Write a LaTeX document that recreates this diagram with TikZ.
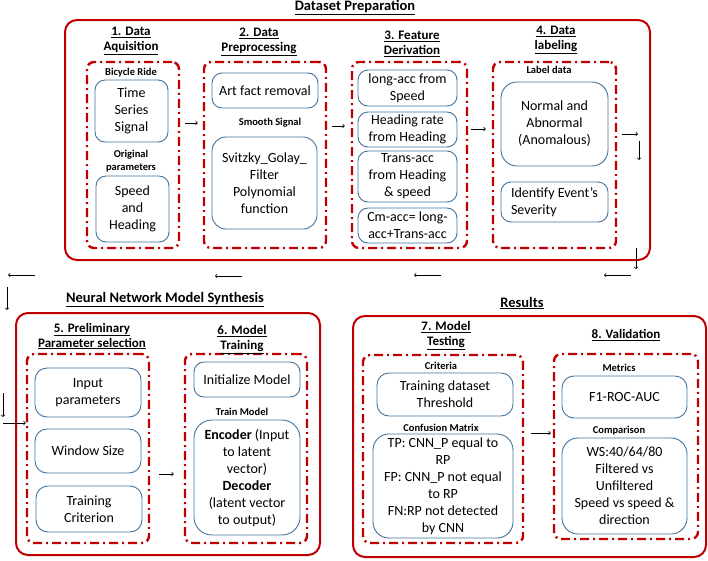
\documentclass[tikz,border=0pt]{standalone}
\usepackage{fontspec}
\setmainfont{Carlito}
\usepackage{tikz}
\usetikzlibrary{positioning,calc}
\definecolor{pptred}{RGB}{192,0,0}
\definecolor{pptblue}{RGB}{65,113,156}

\begin{document}
\begin{tikzpicture}[x=1pt,y=-1pt]
            \tikzstyle{outer}=[draw=pptred, line width=2pt, rounded corners=12pt]
            \tikzstyle{group}=[draw=pptred, line width=2.4pt, rounded corners=7pt,
            dash pattern=on 9pt off 4pt on 2pt off 4pt]
            \tikzstyle{box}=[draw=pptblue, line width=0.9pt, rounded corners=10pt,
            align=center, inner sep=1pt, font=\fontsize{14}{17}\selectfont]
            \tikzstyle{tag}=[font=\fontsize{10.5}{13}\selectfont\bfseries, align=center]
            \tikzstyle{head}=[font=\fontsize{13}{15}\selectfont\bfseries, align=center]
            \tikzstyle{title}=[font=\fontsize{14.5}{17}\selectfont\bfseries]
            \tikzstyle{arr}=[->, line width=0.7pt]
            \useasboundingbox (0,0) rectangle (708,560);
            % Dataset Preparation
            \node[title] (t1) at (355,8) {\underline{Dataset Preparation}};
            \draw[outer] (65,20) rectangle (650,260);
            \node[group, minimum width=92pt, minimum height=186pt] (g1) at (133,155) {};
            \node[group, minimum width=122pt, minimum height=186pt] (g2) at (265,155) {};
            \node[group, minimum width=115pt, minimum height=186pt] (g3) at (409.5,155) {};
            \node[group, minimum width=123pt, minimum height=186pt] (g4) at (554.5,155) {};
            \node[head] (h1) at (131,41) {\underline{1. Data}\\\underline{Aquisition}};
            \node[head] (h2) at (259,42) {\underline{2. Data}\\\underline{Preprocessing}};
            \node[head] (h3) at (412,44) {\underline{3. Feature}\\\underline{Derivation}};
            \node[head] (h4) at (556,40) {\underline{4. Data}\\\underline{labeling}};
            \node[tag] (l11) at (131,73) {Bicycle Ride};
            \node[box, minimum width=73pt, minimum height=62pt] (b11) at (131.5,111) {Time\\Series\\Signal};
            \node[tag] (l12) at (131,161.5) {Original\\parameters};
            \node[box, minimum width=73pt, minimum height=66pt] (b12) at (132.5,209) {Speed\\and\\Heading};
            \node[box, minimum width=106pt, minimum height=35pt] (b21) at (265,90.5) {Art fact removal};
            \node[tag] (l21) at (270,123) {Smooth Signal};
            \node[box, minimum width=105pt, minimum height=92pt, rounded corners=14pt] (b22) at (264.5,183)
              {Svitzky\_Golay\_\\Filter\\Polynomial\\function};
            \node[box, minimum width=99pt, minimum height=36pt] (b31) at (407.5,88) {long-acc from\\Speed};
            \node[box, minimum width=99pt, minimum height=35pt] (b32) at (407.5,129.5) {Heading rate\\from Heading};
            \node[box, minimum width=99pt, minimum height=51pt] (b33) at (407.5,176.5) {Trans-acc\\from Heading\\\& speed};
            \node[box, minimum width=99pt, minimum height=35pt] (b34) at (407.5,225.5) {Cm-acc= long-\\acc+Trans-acc};
            \node[tag] (l41) at (549,70) {Label data};
            \node[box, minimum width=107pt, minimum height=84pt, rounded corners=16pt] (b41) at (554.5,124)
              {Normal and\\Abnormal\\(Anomalous)};
            \node[box, minimum width=107pt, minimum height=40pt, align=left] (b42) at (554.5,202)
              {Identify Event’s\\Severity};
            \path
            ([xshift=5pt,yshift=32pt]g1.east) edge [arr] ([xshift=-5pt,yshift=32pt]g2.west)
            ([xshift=5pt,yshift=29pt]g2.east) edge [arr] ([xshift=-6pt,yshift=29pt]g3.west)
            ([xshift=3pt,yshift=26pt]g3.east) edge [arr] ([xshift=-6pt,yshift=26pt]g4.west);
            % loose arrows between the rows
            \coordinate (r1) at (622,134); \coordinate (r2) at (638,134);
            \coordinate (r3) at (639,141); \coordinate (r4) at (639,160);
            \coordinate (r5) at (636,248); \coordinate (r6) at (636,269);
            \coordinate (r7) at (631,275); \coordinate (r8) at (604,275);
            \coordinate (r9) at (441,275); \coordinate (r10) at (414,275);
            \coordinate (r11) at (242,276); \coordinate (r12) at (215,276);
            \coordinate (r13) at (35,275); \coordinate (r14) at (8,275);
            \coordinate (r15) at (7,287); \coordinate (r16) at (7,310);
            \coordinate (r17) at (3,393); \coordinate (r18) at (3,417);
            \coordinate (r19) at (3,423);
            \foreach \a/\b in {r1/r2,r3/r4,r5/r6,r7/r8,r9/r10,r11/r12,r13/r14,r15/r16,r17/r18}
              \draw[arr] (\a) -- (\b);
            % Neural Network Model Synthesis
            \node[title] (t2) at (165,300) {\underline{Neural Network Model Synthesis}};
            \draw[outer] (16,313) rectangle (320,555);
            \node[group, minimum width=122pt, minimum height=189pt] (g5) at (88,448.5) {};
            \node[group, minimum width=122pt, minimum height=189pt] (g6) at (246,448.5) {};
            \draw[arr] (r19) -- (g5.west |- r19);
            \node[head] (h5) at (92,336) {\underline{5. Preliminary}\\\underline{Parameter selection}};
            \node[head] (h6) at (242,340) {\underline{6. Model}\\\underline{Training}};
            \node[box, minimum width=106pt, minimum height=49pt, rounded corners=12pt] (b51) at (88,392.5) {Input\\parameters};
            \node[box, minimum width=106pt, minimum height=44pt, rounded corners=12pt] (b52) at (88,451) {Window Size};
            \node[box, minimum width=106pt, minimum height=46pt, rounded corners=12pt] (b53) at (89,509) {Training\\Criterion};
            \node[box, minimum width=106pt, minimum height=35pt] (b61) at (247,379.5) {Initialize Model};
            \node[tag] (l61) at (242,412) {Train Model};
            \node[box, minimum width=106pt, minimum height=115pt, rounded corners=18pt] (b62) at (247,477.5)
              {\textbf{Encoder} (Input\\to latent\\vector)\\\textbf{Decoder}\\(latent vector\\to output)};
            \path
            ([xshift=9pt,yshift=-25.5pt]g5.east) edge [arr] ([xshift=-10pt,yshift=-25.5pt]g6.west);
            % Results
            \node[title] (t3) at (522,303) {\underline{Results}};
            \draw[outer] (353,316) rectangle (706,557);
            \node[group, minimum width=160pt, minimum height=188pt] (g7) at (443,449) {};
            \node[group, minimum width=144pt, minimum height=185pt] (g8) at (626,446.5) {};
            \node[head] (h7) at (446,336) {\underline{7. Model}\\\underline{Testing}};
            \node[head] (h8) at (626,335) {\underline{8. Validation}};
            \node[tag] (l71) at (441,366) {Criteria};
            \node[box, minimum width=136pt, minimum height=43pt, rounded corners=12pt] (b71) at (445,394.5)
              {Training dataset\\Threshold};
            \node[tag] (l72) at (441,428) {Confusion Matrix};
            \node[box, minimum width=140pt, minimum height=104pt, rounded corners=16pt] (b72) at (443,486)
              {TP: CNN\_P equal to\\RP\\FP: CNN\_P not equal\\to RP\\FN:RP not detected\\by CNN};
            \node[tag] (l81) at (619,368) {Metrics};
            \node[box, minimum width=125pt, minimum height=42pt, rounded corners=12pt] (b81) at (624.5,397) {F1-ROC-AUC};
            \node[tag] (l82) at (619,431) {Comparison};
            \node[box, minimum width=125pt, minimum height=96pt, rounded corners=16pt] (b82) at (624.5,486)
              {WS:40/64/80\\Filtered vs\\Unfiltered\\Speed vs speed \&\\direction};
            \path
            ([xshift=7pt,yshift=16pt]g7.east) edge [arr] ([xshift=-2pt,yshift=13.5pt]g8.west);
        \end{tikzpicture}
\end{document}
